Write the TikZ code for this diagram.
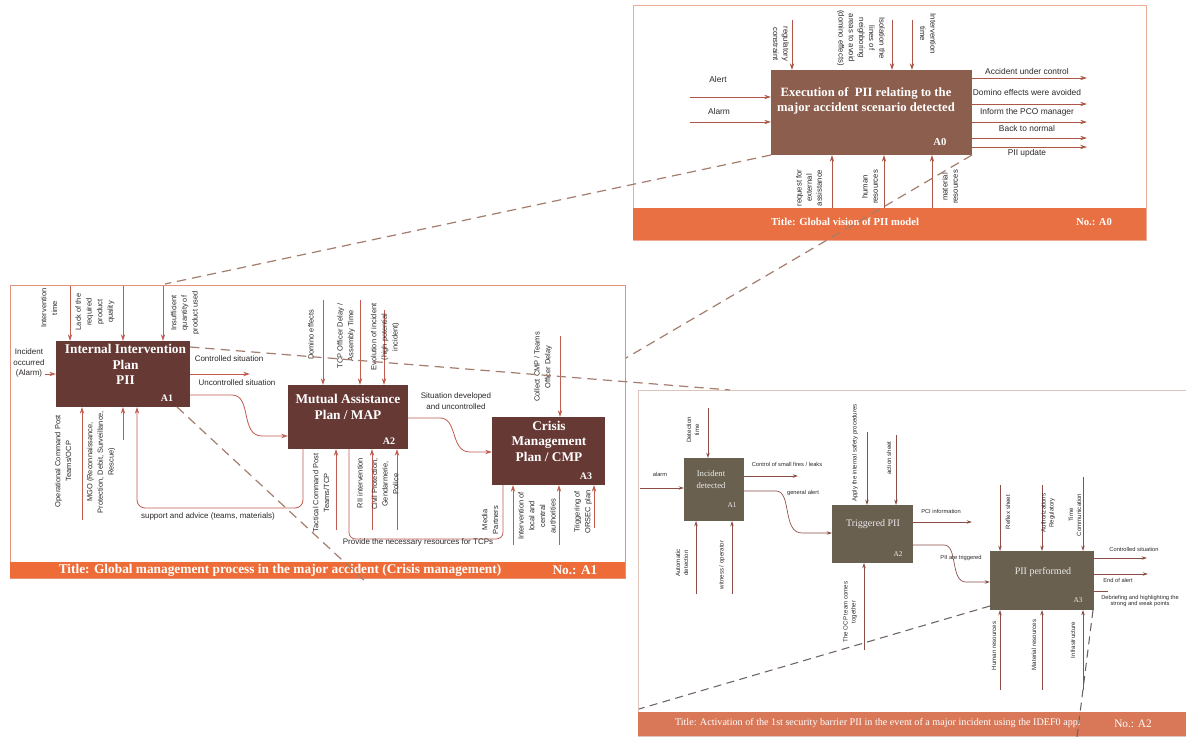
\documentclass[tikz,border=0pt]{standalone}
\usepackage{fontspec}
\setmainfont{Liberation Serif}
\setsansfont{Liberation Sans}
\usetikzlibrary{arrows.meta}
\definecolor{boxA}{RGB}{140,94,77}
\definecolor{boxL}{RGB}{102,57,53}
\definecolor{boxR}{RGB}{106,96,80}
\definecolor{barA}{RGB}{233,112,66}
\definecolor{barL}{RGB}{238,108,56}
\definecolor{barR}{RGB}{216,120,88}
\definecolor{frA}{RGB}{236,172,150}
\definecolor{frL}{RGB}{226,146,124}
\definecolor{frR}{RGB}{222,196,186}
\definecolor{arrA}{RGB}{172,86,72}
\definecolor{arrL}{RGB}{192,92,80}
\definecolor{arrR}{RGB}{140,78,72}
\definecolor{dashA}{RGB}{165,125,110}
\definecolor{dashR}{RGB}{110,100,95}
\definecolor{txt}{RGB}{45,40,40}
\begin{document}
\begin{tikzpicture}[x=0.75pt,y=-0.75pt,
  every node/.style={inner sep=0pt, outer sep=0pt},
  boxa/.style={fill=boxA},
  boxl/.style={fill=boxL},
  boxr/.style={fill=boxR},
  btA/.style={font=\bfseries\fontsize{9.5}{11}\selectfont, text=white, align=center},
  btL/.style={font=\bfseries\fontsize{10}{11.6}\selectfont, text=white, align=center},
  btR/.style={font=\fontsize{7.5}{9.5}\selectfont, text=white!92!black, align=center},
  nA/.style={font=\bfseries\fontsize{8}{9}\selectfont, text=white},
  nL/.style={font=\bfseries\fontsize{7.5}{9}\selectfont, text=white},
  nR/.style={font=\fontsize{5.5}{6}\selectfont, text=white!92!black},
  arra/.style={draw=arrA, line width=0.6pt, -{Stealth[length=5pt,width=3.2pt]}},
  arrl/.style={draw=arrL, line width=0.6pt, -{Stealth[length=5pt,width=3.2pt]}},
  arrr/.style={draw=arrR, line width=0.5pt, -{Stealth[length=4pt,width=2.6pt]}},
  plainl/.style={draw=arrL, line width=0.6pt},
  plainr/.style={draw=arrR, line width=0.5pt},
  la/.style={font=\sffamily\fontsize{6.3}{7.5}\selectfont, text=txt, align=center},
  lav/.style={font=\sffamily\fontsize{5.8}{7.6}\selectfont, text=txt, align=center, rotate=-90},
  lavb/.style={font=\sffamily\fontsize{5.8}{7.6}\selectfont, text=txt, align=center, rotate=90},
  ll/.style={font=\sffamily\fontsize{6}{8}\selectfont, text=txt, align=center},
  llv/.style={font=\sffamily\fontsize{5.6}{8}\selectfont, text=txt, align=center, rotate=90},
  lr/.style={font=\sffamily\fontsize{4.3}{5.2}\selectfont, text=txt, align=center},
  lrv/.style={font=\sffamily\fontsize{4.6}{6}\selectfont, text=txt, align=center, rotate=90},
  dsh/.style={draw=dashA, line width=0.9pt, dash pattern=on 7pt off 4.5pt},
  dshr/.style={draw=dashR, line width=0.8pt, dash pattern=on 6pt off 4pt}
]
\useasboundingbox (0,0) rectangle (1186,737);
\fill[white] (0,0) rectangle (1186,737);

%================ TOP PANEL A0 =================
\draw[frA, fill=white, line width=0.6pt] (633,5) rectangle (1146,240);
\fill[barA] (633,208) rectangle (1146,240);
\node[font=\bfseries\fontsize{8}{9}\selectfont, text=white] (ta) at (845,222) {Title: Global vision of PII model};
\node[font=\bfseries\fontsize{8}{9}\selectfont, text=white] (na) at (1094,222) {No.: A0};

\node[boxa, minimum width=150.75pt, minimum height=63.75pt] (a0) at (871.5,112.5) {};
\node[btA] (a0t) at (866,101) {Execution of\ \ PII relating to the\\major accident scenario detected};
\node[nA] (a0n) at (940,142) {A0};

\coordinate (a0c1) at (792,20);
\coordinate (a0c2) at (892,20);
\coordinate (a0c3) at (912,20);
\foreach \c in {a0c1,a0c2,a0c3} \draw[arra] (\c) -- (\c |- a0.north);
\node[lav] (a0l1) at (781,44) {regulatory\\constraint};
\node[lav] (a0l2) at (861,38) {Isolation the\\lines of\\neighboring\\areas to avoid\\(domino effects)};
\node[lav] (a0l3) at (928,34) {Intervention\\time};

\coordinate (a0i1) at (690,97);
\coordinate (a0i2) at (690,122);
\draw[arra] (a0i1) -- (a0i1 -| a0.west);
\draw[arra] (a0i2) -- (a0i2 -| a0.west);
\node[la] (a0li1) at (718,80) {Alert};
\node[la] (a0li2) at (719,112) {Alarm};

\coordinate (a0o1) at (1087,78);
\coordinate (a0o2) at (1087,104);
\coordinate (a0o3) at (1087,122);
\coordinate (a0o4) at (1087,138);
\coordinate (a0o5) at (1087,147);
\foreach \c in {a0o1,a0o2,a0o3,a0o4,a0o5} \draw[arra] (\c -| a0.east) -- (\c);
\node[la] (a0lo1) at (1027,72) {Accident under control};
\node[la] (a0lo2) at (1027,93) {Domino effects were avoided};
\node[la] (a0lo3) at (1027,112) {Inform the PCO manager};
\node[la] (a0lo4) at (1027,129) {Back to normal};
\node[la] (a0lo5) at (1027,153) {PII update};

\coordinate (a0m1) at (832,208);
\coordinate (a0m2) at (884,208);
\coordinate (a0m3) at (932,208);
\foreach \c in {a0m1,a0m2,a0m3} \draw[arra] (\c) -- (\c |- a0.south);
\node[lavb] (a0lm1) at (809,188) {request for\\external\\assistance};
\node[lavb] (a0lm2) at (870,187) {human\\resources};
\node[lavb] (a0lm3) at (950,187) {material\\resources};

%================ LEFT PANEL A1 =================
\draw[frL, fill=white, line width=0.6pt] (10,285) rectangle (625,578);
\fill[barL] (10,562) rectangle (625,578);
\node[font=\bfseries\fontsize{10}{11}\selectfont, text=white] (tl) at (280,570.5) {Title: Global management process in the major accident (Crisis management)};
\node[font=\bfseries\fontsize{10}{11}\selectfont, text=white] (nl) at (575,570.5) {No.: A1};

\node[boxl, minimum width=100.5pt, minimum height=49.5pt] (p1) at (123,374) {};
\node[btL] (p1t) at (125.5,364.5) {Internal Intervention\\Plan\\PII};
\node[nL] (p1n) at (167,398) {A1};

\node[boxl, minimum width=90pt, minimum height=48pt] (p2) at (348,417) {};
\node[btL] (p2t) at (348,407) {Mutual Assistance\\Plan / MAP};
\node[nL] (p2n) at (389,441) {A2};

\node[boxl, minimum width=84.75pt, minimum height=51pt] (p3) at (548.5,451) {};
\node[btL] (p3t) at (549,441) {Crisis\\Management\\Plan / CMP};
\node[nL] (p3n) at (586,476) {A3};

% controls of A1
\coordinate (p1c1) at (70,286);
\coordinate (p1c2) at (123,286);
\coordinate (p1c3) at (163,286);
\foreach \c in {p1c1,p1c2,p1c3} \draw[arrl] (\c) -- (\c |- p1.north);
\node[llv] (p1l1) at (49,308) {Intervention\\time};
\node[llv] (p1l2) at (95,312) {Lack of the\\required\\product\\quality};
\node[llv] (p1l3) at (185,313) {Insufficient\\quantity of\\product used};

\coordinate (p1i) at (45,374);
\draw[arrl] (p1i) -- (p1i -| p1.west);
\node[ll] (p1li) at (29,363) {Incident\\occurred\\(Alarm)};

\coordinate (p1o1) at (250,374);
\draw[arrl] (p1o1 -| p1.east) -- (p1o1);
\node[ll] (p1lo1) at (229,359) {Controlled situation};
\node[ll] (p1lo2) at (237,383) {Uncontrolled situation};
\draw[arrl] (p1.east |- 0,395) -- (232,395) .. controls (252,395) and (240,436) .. (262,436) -- (p2.west |- 0,436);

% controls of A2
\coordinate (p2c1) at (323,300);
\coordinate (p2c2) at (360,300);
\coordinate (p2c3) at (384,310);
\foreach \c in {p2c1,p2c2,p2c3} \draw[arrl] (\c) -- (\c |- p2.north);
\node[llv] (p2l1) at (311,335) {Domino effects};
\node[llv] (p2l2) at (346,336) {TCP Officer Delay /\\Assembly Time};
\node[llv] (p2l3) at (385,337) {Evolution of incident\\(high potential\\incident)};

\node[ll] (p2lo) at (456,401) {Situation developed\\and uncontrolled};
\draw[arrl] (p2.east |- 0,418) -- (440,418) .. controls (458,418) and (450,452) .. (470,452) -- (p3.west |- 0,452);

% control of A3
\coordinate (p3c1) at (560,336);
\draw[arrl] (p3c1) -- (p3c1 |- p3.north);
\node[llv] (p3l1) at (543,367) {Collect CMP / Teams\\Officer Delay};

% mechanisms of A1
\coordinate (p1m1) at (82,520);
\coordinate (p1m2) at (123,440);
\foreach \c in {p1m1,p1m2} \draw[arrl] (\c) -- (\c |- p1.south);
\node[llv] (p1lm1) at (63,461) {Operational Command Post\\Teams/OCP};
\node[llv] (p1lm2) at (101,462) {MGO (Reconnaissance,\\Protection, Debit, Surveillance,\\Rescue)};
\draw[arrl, rounded corners=6pt] (p2.south -| 303,0) -- (303,508) -- (137,508) -- (p1.south -| 137,0);
\node[ll] (p1ls) at (208,516) {support and advice (teams, materials)};

% mechanisms of A2
\coordinate (p2m1) at (336,530);
\coordinate (p2m2) at (372,530);
\coordinate (p2m3) at (397,530);
\foreach \c in {p2m1,p2m2,p2m3} \draw[arrl] (\c) -- (\c |- p2.south);
\node[llv] (p2lm1) at (321,493) {Tactical Command Post\\Teams/TCP};
\node[llv] (p2lm2) at (360,483) {RII intervention};
\node[llv] (p2lm3) at (385,484) {Civil Protection,\\Gendarmerie,\\Police};
\draw[plainl, rounded corners=5pt] (p2.south -| 349,0) -- (349,539) -- (503,539) -- (p3.south -| 503,0);
\node[ll] (p2lp) at (418,542) {Provide the necessary resources for TCPs};

% mechanisms of A3
\coordinate (p3m1) at (513,545);
\coordinate (p3m2) at (559,545);
\coordinate (p3m3) at (594,528);
\foreach \c in {p3m1,p3m2,p3m3} \draw[arrl] (\c) -- (\c |- p3.south);
\node[llv] (p3lm1) at (490,520) {Media\\Partners};
\node[llv] (p3lm2) at (537,516) {Intervention of\\local and\\central\\authorities};
\node[llv] (p3lm3) at (583,512) {Triggering of\\ORSEC plan};

%================ RIGHT PANEL A2 =================
\draw[frR, fill=white, line width=0.6pt] (638,390) rectangle (1192,736);
\fill[barR] (638,712) rectangle (1192,736);
\begin{scope}
\clip (638,712) rectangle (1079,736);
\node[anchor=west, font=\fontsize{7.6}{8}\selectfont, text=white] (tr) at (675,723.5) {Title: Activation of the 1st security barrier PII in the event of a major incident using the IDEF0 approach};
\end{scope}
\node[font=\fontsize{8.5}{9}\selectfont, text=white] (nr) at (1133,723.5) {No.: A2};

\node[boxr, minimum width=45pt, minimum height=47.25pt] (r1) at (714,489.5) {};
\node[btR, font=\fontsize{6.5}{9.5}\selectfont] (r1t) at (711,479.5) {Incident\\detected};
\node[nR] (r1n) at (732,505) {A1};

\node[boxr, minimum width=60.75pt, minimum height=43.5pt] (r2) at (872.5,534) {};
\node[btR] (r2t) at (873,524) {Triggered PII};
\node[nR] (r2n) at (898,554) {A2};

\node[boxr, minimum width=78pt, minimum height=44.25pt] (r3) at (1042,580.5) {};
\node[btR] (r3t) at (1043,572) {PII performed};
\node[nR] (r3n) at (1078,600) {A3};

% r1
\coordinate (r1c1) at (708,408);
\draw[arrr] (r1c1) -- (r1c1 |- r1.north);
\node[lrv] (r1l1) at (693,430) {Detection\\time};
\coordinate (r1i) at (640,488);
\draw[arrr] (r1i) -- (r1i -| r1.west);
\node[lr] (r1li) at (660,474) {alarm};
\coordinate (r1o1) at (798,476);
\draw[arrr] (r1o1 -| r1.east) -- (r1o1);
\node[lr] (r1lo1) at (787,464) {Control of small fires / leaks};
\draw[arrr] (r1.east |- 0,491) -- (776,491) .. controls (792,491) and (782,533) .. (802,533) -- (r2.west |- 0,533);
\node[lr] (r1lo2) at (803,493) {general alert};
\coordinate (r1m1) at (696,594);
\coordinate (r1m2) at (732,594);
\foreach \c in {r1m1,r1m2} \draw[arrr] (\c) -- (\c |- r1.south);
\node[lrv] (r1lm1) at (682,563) {Automatic\\detection};
\node[lrv] (r1lm2) at (722,565) {witness / operator};

% r2
\coordinate (r2c1) at (867,432);
\coordinate (r2c2) at (896,435);
\foreach \c in {r2c1,r2c2} \draw[arrr] (\c) -- (\c |- r2.north);
\node[lrv] (r2l1) at (855,453) {Apply the internal safety procedures};
\node[lrv] (r2l2) at (889,458) {action sheet};
\coordinate (r2o1) at (972,522);
\draw[arrr] (r2o1 -| r2.east) -- (r2o1);
\node[lr] (r2lo1) at (941,511) {PCI information};
\draw[arrr] (r2.east |- 0,545) -- (944,545) .. controls (958,545) and (950,582) .. (966,582) -- (r3.west |- 0,582);
\node[lr] (r2lo2) at (961,558) {PII are triggered};
\coordinate (r2m1) at (864,650);
\draw[arrr] (r2m1) -- (r2m1 |- r2.south);
\node[lrv] (r2lm1) at (850,612) {The OCP team comes\\together};

% r3
\coordinate (r3c1) at (1000,485);
\coordinate (r3c2) at (1042,485);
\coordinate (r3c3) at (1083,477);
\foreach \c in {r3c1,r3c2,r3c3} \draw[arrr] (\c) -- (\c |- r3.north);
\node[lrv] (r3l1) at (1008,512) {Reflex sheet};
\node[lrv] (r3l2) at (1048,513) {Authorizations\\Regulatory};
\node[lrv] (r3l3) at (1075,515) {Time\\Communication};
\coordinate (r3o1) at (1147,558);
\coordinate (r3o2) at (1148,574);
\coordinate (r3o3) at (1108,591);
\foreach \c in {r3o1,r3o2} \draw[arrr] (\c -| r3.east) -- (\c);
\draw[plainr] (r3o3 -| r3.east) -- (r3o3);
\node[lr] (r3lo1) at (1134,549) {Controlled situation};
\node[lr] (r3lo2) at (1118,580) {End of alert};
\node[lr] (r3lo3) at (1140,601) {Debriefing and highlighting the\\strong and weak points};
\coordinate (r3m1) at (1000,690);
\coordinate (r3m2) at (1042,690);
\coordinate (r3m3) at (1083,690);
\foreach \c in {r3m1,r3m2,r3m3} \draw[arrr] (\c) -- (\c |- r3.south);
\node[lrv] (r3lm1) at (994,646) {Human resources};
\node[lrv] (r3lm2) at (1034,645) {Material resources};
\node[lrv] (r3lm3) at (1073,640) {Infrastructure};

%================ DASHED DECOMPOSITION LINES =================
\coordinate (d1e) at (165,284);
\coordinate (d2e) at (626,358);
\coordinate (d3e) at (730,390);
\coordinate (d4e) at (368,584);
\coordinate (d5e) at (639,709);
\coordinate (d6e) at (1077,737);
\draw[dsh] (a0.south west) -- (d1e);
\draw[dsh] (a0.south east) -- (d2e);
\draw[dsh] (p1.east |- 0,347) -- (d3e);
\draw[dsh] (p1.south -| 177,0) -- (d4e);
\draw[dshr] (r3.west |- 0,606) -- (d5e);
\draw[dshr] (r3.south -| 1093,0) -- (d6e);
\end{tikzpicture}
\end{document}
